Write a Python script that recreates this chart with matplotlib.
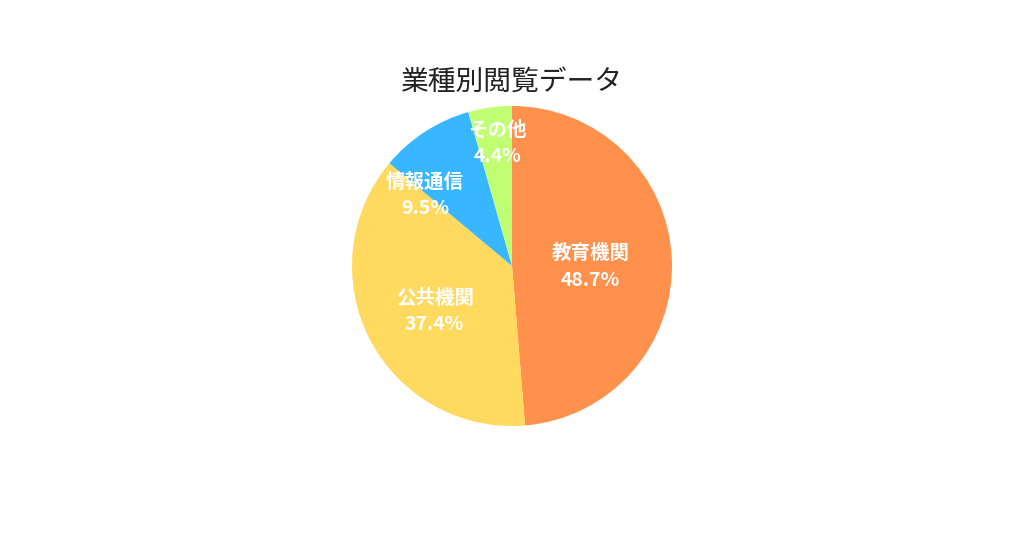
import matplotlib.pyplot as plt
import numpy as np

plt.rcParams['font.family'] = ['Noto Sans CJK JP', 'DejaVu Sans']

# 業種別の閲覧データ
categories = ["教育機関", "公共機関", "情報通信", "その他"]
shares = [48.7, 37.4, 9.5, 4.4]
colors = ["#FF914D", "#FFDA5E", "#38B6FF", "#C1FF72"]

# ラベル位置の調整 (半径比, 中心角からのずれ[度])
label_r = [0.49, 0.56, 0.70, 0.77]
label_shift = [-3, 3, 18, -1]

fig = plt.figure(figsize=(10.24, 5.36), dpi=100)
ax = fig.add_axes([352 / 1024, 110 / 536, 320 / 1024, 320 / 536])

wedges, _ = ax.pie(shares, colors=colors, startangle=90, counterclock=False,
                   radius=1.0, wedgeprops={'linewidth': 0})

for w, cat, val, r, sh in zip(wedges, categories, shares, label_r, label_shift):
    ang = np.deg2rad((w.theta1 + w.theta2) / 2 + sh)
    ax.text(r * np.cos(ang), r * np.sin(ang), f"{cat}\n{val}%",
            ha='center', va='center', color='white', fontsize=14,
            fontweight='bold', linespacing=1.5)

ax.set_xlim(-1, 1)
ax.set_ylim(-1, 1)
ax.set_aspect('equal')
ax.axis('off')

fig.text(0.5, 1 - 82 / 536, "業種別閲覧データ", ha='center', va='center',
         fontsize=20, color='#222222')

fig.savefig("out.png", dpi=100, facecolor='white')
